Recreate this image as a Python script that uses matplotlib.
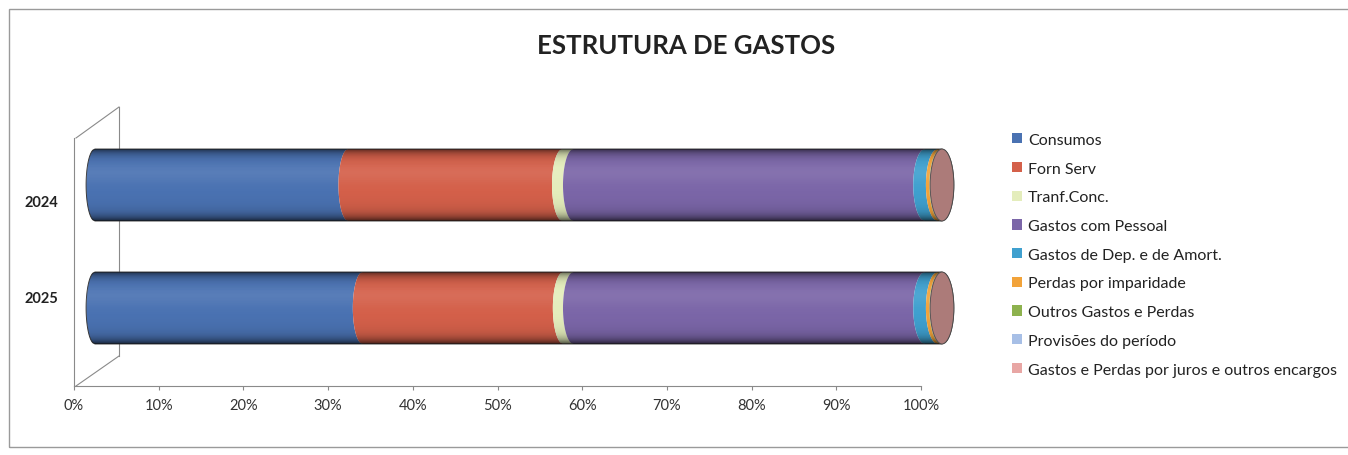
import numpy as np
import matplotlib
matplotlib.use('Agg')
import matplotlib.pyplot as plt
from matplotlib.patches import Polygon, Ellipse, Patch, Rectangle
from matplotlib.lines import Line2D
from matplotlib.ticker import PercentFormatter

plt.rcParams['font.family'] = ['Lato', 'DejaVu Sans']

anos = ['2024', '2025']
rubricas = ['Consumos', 'Forn Serv', 'Tranf.Conc.', 'Gastos com Pessoal',
            'Gastos de Dep. e de Amort.', 'Perdas por imparidade',
            'Outros Gastos e Perdas', 'Provisões do período',
            'Gastos e Perdas por juros e outros encargos']

# peso de cada rubrica no total de gastos (%)
consumos = [29.9, 31.6]
forn_serv = [25.3, 23.7]
tranf_conc = [1.3, 1.2]
pessoal = [41.5, 41.5]
dep_amort = [1.5, 1.5]
imparidade = [0.4, 0.4]
outros = [0.05, 0.05]
provisoes = [0.0, 0.0]
juros = [0.05, 0.05]

cores = ['#4a72b2', '#d4604a', '#e4edbc', '#7b66a8', '#3fa0cf',
         '#f2a33a', '#8db24e', '#a7bfe6', '#e8a6a4']

valores = np.array([consumos, forn_serv, tranf_conc, pessoal, dep_amort,
                    imparidade, outros, provisoes, juros])
valores = valores / valores.sum(axis=0) * 100

W, H = 1348, 456
fig = plt.figure(figsize=(W / 100, H / 100), dpi=100)
fig.patch.set_facecolor('white')


def fx(x):
    return x / W


def fy(y):
    return 1 - y / H


# moldura exterior
fig.add_artist(Rectangle((fx(9), fy(448)), 1.2, (448 - 10) / H, transform=fig.transFigure,
                         fill=False, edgecolor='#9a9a9a', lw=1.0))

fig.text(fx(686), fy(46), 'ESTRUTURA DE GASTOS', ha='center', va='center',
         fontsize=18.5, fontweight='bold', color='#222222')

# eixo do chão / paredes 3D
ax_f = fig.add_axes([fx(74), fy(387), (921 - 74) / W, (387 - 139) / H])
ax_f.set_facecolor('none')
ax_f.set_xlim(0, 100)
ax_f.set_ylim(1.927, -0.656)
ax_f.set_xticks(np.arange(0, 101, 10))
ax_f.xaxis.set_major_formatter(PercentFormatter(decimals=0))
ax_f.set_yticks([0, 1])
ax_f.set_yticklabels(anos, fontweight='bold', fontsize=10.5, color='#222222')
ax_f.tick_params(axis='y', length=0, pad=11)
ax_f.tick_params(axis='x', length=3, width=0.8, color='#888888', pad=6,
                 labelsize=10.5, labelcolor='#333333')
for s in ['top', 'right']:
    ax_f.spines[s].set_visible(False)
for s in ['left', 'bottom']:
    ax_f.spines[s].set_color('#8a8a8a')
    ax_f.spines[s].set_linewidth(0.8)

for (x0, y0), (x1, y1) in [((76, 139), (119, 108)), ((119, 108), (119, 357)),
                           ((76, 387), (119, 357))]:
    ax_f.add_line(Line2D([fx(x0), fx(x1)], [fy(y0), fy(y1)], transform=fig.transFigure,
                         color='#8a8a8a', lw=0.8, clip_on=False))

# cilindros
ax = fig.add_axes([fx(52.65), fy(407.4), (984.35 - 52.65) / W, 319.8 / H], zorder=2)
ax.set_facecolor('none')
ax.axis('off')

h = 0.2925
t = np.linspace(-1, 1, 60)


def semi_a(x):
    return 1.05 + 0.0035 * x


def arco(x, yc, sentido=1):
    xs = x - semi_a(x) * np.sqrt(1 - t ** 2)
    ys = yc + h * t
    pts = np.column_stack([xs, ys])
    return pts if sentido == 1 else pts[::-1]


gy = np.linspace(-1, 1, 80)
sombra = np.zeros((80, 1, 4))
sombra[..., 3] = (0.55 * np.abs(gy) ** 7 + 0.12 * np.clip(gy, 0, 1) ** 2)[:, None]
brilho = np.ones((80, 1, 4))
brilho[..., 3] = (0.08 * np.exp(-((gy + 0.35) / 0.3) ** 2))[:, None]

for i, ano in enumerate(anos):
    yc = i
    acum = np.concatenate([[0], np.cumsum(valores[:, i])])
    for j in range(len(rubricas)):
        x0, x1 = acum[j], acum[j + 1]
        if x1 - x0 <= 0:
            continue
        pts = np.vstack([arco(x0, yc, 1), arco(x1, yc, -1)])
        ax.add_patch(Polygon(pts, closed=True, facecolor=cores[j], edgecolor='none'))

    fim = acum[-1]
    a_fim = semi_a(fim)
    corpo = np.vstack([arco(0, yc, 1),
                       np.column_stack([fim + a_fim * np.sqrt(1 - t[::-1] ** 2), yc + h * t[::-1]])])
    contorno = Polygon(corpo, closed=True, facecolor='none', edgecolor='#3c3c3c', lw=0.7)
    ax.add_patch(contorno)
    for img in (sombra, brilho):
        im = ax.imshow(img, extent=[-2, fim + 2, yc + h, yc - h], aspect='auto',
                       interpolation='bilinear', zorder=3)
        im.set_clip_path(contorno)

    ultimo = [j for j in range(len(rubricas)) if valores[j, i] > 0][-1]
    tampa = np.array(matplotlib.colors.to_rgb(cores[ultimo])) * 0.74
    ax.add_patch(Ellipse((fim, yc), 2 * a_fim, 2 * h, facecolor=tampa,
                         edgecolor='#4a4a4a', lw=0.6, zorder=4))

ax.set_xlim(-5, 105)
ax.set_ylim(1.8, -0.8)

handles = [Patch(facecolor=c, edgecolor='none') for c in cores]
fig.legend(handles, rubricas, loc='upper left', bbox_to_anchor=(fx(1012), fy(134)),
           frameon=False, fontsize=11.5, handlelength=0.6, handleheight=0.6,
           handletextpad=0.4, labelspacing=0.92, borderpad=0, borderaxespad=0,
           labelcolor='#222222')

fig.savefig('out.png', dpi=100)
